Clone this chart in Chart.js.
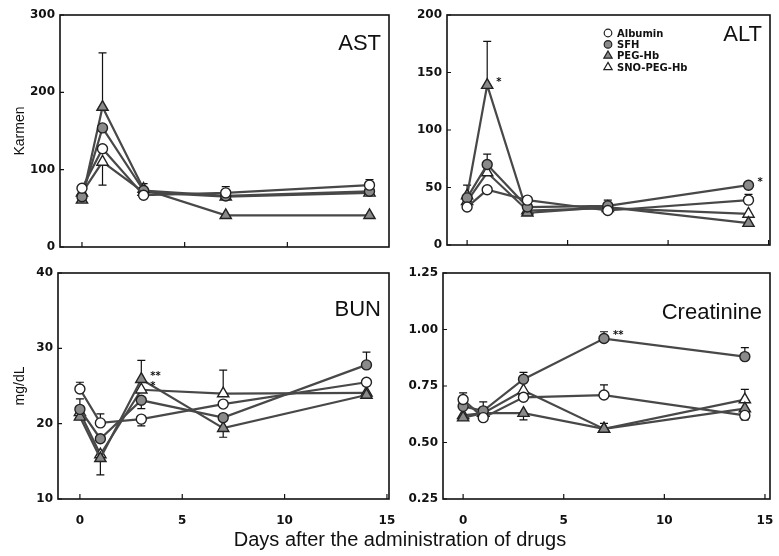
<!DOCTYPE html>
<html>
<head>
<meta charset="utf-8">
<script src="https://cdn.jsdelivr.net/npm/chart.js@4/dist/chart.umd.min.js"></script>
<style>
  body { margin: 0; background: #fff; }
  #wrap { position: relative; width: 779px; height: 556px; overflow: hidden; background: #fff; }
  #wrap canvas { position: absolute; }
  #xTitle {
    position: absolute; left: 400px; top: 528px; transform: translateX(-50%);
    font: 20px "Liberation Sans", Arial, sans-serif; color: #111; white-space: nowrap;
  }
</style>
</head>
<body>
<div id="wrap">
  <canvas id="ast"></canvas>
  <canvas id="alt"></canvas>
  <canvas id="bun"></canvas>
  <canvas id="creatinine"></canvas>
  <div id="xTitle">Days after the administration of drugs</div>
</div>
<script>
const days = [0, 1, 3, 7, 14];
const groups = ['Albumin', 'SFH', 'PEG-Hb', 'SNO-PEG-Hb'];

// AST (Karmen units)
const astAlbumin = [76, 127, 67, 70, 80];
const astSfh = [65, 154, 73, 66, 72];
const astPegHb = [61, 181, 75, 41, 41];
const astSnoPegHb = [70, 110, 71, 65, 70];

// ALT (Karmen units)
const altAlbumin = [33, 48, 39, 30, 39];
const altSfh = [41, 70, 33, 34, 52];
const altPegHb = [43, 139, 28, 33, 19];
const altSnoPegHb = [38, 63, 30, 32, 27];

// BUN (mg/dL)
const bunAlbumin = [24.6, 20.1, 20.6, 22.6, 25.5];
const bunSfh = [21.9, 18.0, 23.1, 20.8, 27.8];
const bunPegHb = [20.9, 15.4, 25.9, 19.4, 23.8];
const bunSnoPegHb = [21.5, 15.9, 24.5, 24.0, 24.1];

// Creatinine (mg/dL)
const creAlbumin = [0.69, 0.61, 0.70, 0.71, 0.62];
const creSfh = [0.66, 0.64, 0.78, 0.96, 0.88];
const crePegHb = [0.61, 0.63, 0.63, 0.56, 0.65];
const creSnoPegHb = [0.62, 0.63, 0.73, 0.56, 0.69];

// error bars: [group index, day index, end of bar]
const astErrors = [[2, 1, 251], [3, 1, 80], [2, 2, 82], [0, 3, 78], [0, 4, 87]];
const altErrors = [[2, 0, 52], [2, 1, 177], [1, 1, 79], [1, 3, 39], [0, 4, 44]];
const bunErrors = [[0, 0, 25.5], [1, 0, 23.3], [0, 1, 21.3], [2, 1, 13.2], [2, 2, 28.4],
  [1, 2, 22.0], [0, 2, 19.7], [3, 3, 27.1], [2, 3, 18.2], [1, 4, 29.5]];
const creErrors = [[0, 0, 0.72], [1, 1, 0.68], [1, 2, 0.81], [2, 2, 0.60], [1, 3, 0.99],
  [0, 3, 0.755], [2, 3, 0.585], [1, 4, 0.92], [3, 4, 0.735], [0, 4, 0.60]];

// significance marks: [group index, day index, text]
const altMarks = [[2, 1, '*'], [1, 4, '*']];
const bunMarks = [[2, 2, '**'], [3, 2, '*']];
const creMarks = [[1, 3, '**']];

const tickFont = { family: '"DejaVu Sans", sans-serif', size: 12, weight: 'bold' };
const markerStyles = [
  { pointStyle: 'circle', radius: 5, fill: '#fff' },
  { pointStyle: 'circle', radius: 5, fill: '#8a8a8a' },
  { pointStyle: 'triangle', radius: 6.5, fill: '#8a8a8a' },
  { pointStyle: 'triangle', radius: 6.5, fill: '#fff' },
];

function buildDatasets(series) {
  return series.map((values, i) => ({
    label: groups[i],
    data: values.map((v, j) => ({ x: days[j], y: v })),
    borderColor: '#484848',
    borderWidth: 2.2,
    pointStyle: markerStyles[i].pointStyle,
    pointRadius: markerStyles[i].radius,
    pointBackgroundColor: markerStyles[i].fill,
    pointBorderColor: '#222',
    pointBorderWidth: 1.4,
    tension: 0,
  }));
}

// frame, inward ticks, error bars, panel name, significance marks, legend
const panelDecor = {
  id: 'panelDecor',
  beforeDatasetsDraw(chart) {
    const { ctx, scales: { x, y } } = chart;
    const opts = chart.options.plugins.panelDecor;
    ctx.save();
    ctx.strokeStyle = '#111';
    ctx.lineWidth = 1.2;
    opts.errors.forEach(([g, d, end]) => {
      const px = x.getPixelForValue(days[d]);
      const py0 = y.getPixelForValue(opts.series[g][d]);
      const py1 = y.getPixelForValue(end);
      ctx.beginPath();
      ctx.moveTo(px, py0);
      ctx.lineTo(px, py1);
      ctx.moveTo(px - 4, py1);
      ctx.lineTo(px + 4, py1);
      ctx.stroke();
    });
    ctx.restore();
  },
  afterDraw(chart) {
    const { ctx, chartArea: area, scales: { x, y } } = chart;
    const opts = chart.options.plugins.panelDecor;
    ctx.save();
    ctx.strokeStyle = '#111';
    ctx.lineWidth = 1.6;
    ctx.strokeRect(area.left, area.top, area.right - area.left, area.bottom - area.top);

    ctx.lineWidth = 1.2;
    ctx.beginPath();
    x.ticks.forEach((t) => {
      const px = x.getPixelForValue(t.value);
      ctx.moveTo(px, area.bottom);
      ctx.lineTo(px, area.bottom - 5);
    });
    y.ticks.forEach((t) => {
      const py = y.getPixelForValue(t.value);
      ctx.moveTo(area.left, py);
      ctx.lineTo(area.left + 4, py);
    });
    ctx.stroke();

    ctx.fillStyle = '#111';
    ctx.font = '22px "Liberation Sans", Arial, sans-serif';
    ctx.textAlign = 'right';
    ctx.textBaseline = 'middle';
    ctx.fillText(opts.name, area.right - 8, area.top + opts.nameOffset);

    ctx.font = 'bold 10px "DejaVu Sans", sans-serif';
    ctx.textAlign = 'left';
    opts.marks.forEach(([g, d, text]) => {
      const px = x.getPixelForValue(days[d]);
      const py = y.getPixelForValue(opts.series[g][d]);
      ctx.fillText(text, px + 9, py - 3);
    });

    if (opts.legend) {
      const lx = area.left + 161;
      let ly = area.top + 18;
      ctx.font = 'bold 10px "DejaVu Sans", sans-serif';
      markerStyles.forEach((m, i) => {
        ctx.fillStyle = m.fill;
        ctx.strokeStyle = '#222';
        Chart.helpers.drawPoint(ctx, {
          pointStyle: m.pointStyle, radius: m.pointStyle === 'circle' ? 3.8 : 4.8, borderWidth: 1.5,
        }, lx, ly);
        ctx.fillStyle = '#111';
        ctx.fillText(groups[i], lx + 9, ly + 1);
        ly += 11.4;
      });
    }
    ctx.restore();
  },
};

function makePanel(id, box, cfg) {
  const canvas = document.getElementById(id);
  canvas.width = box.w;
  canvas.height = box.h;
  canvas.style.left = box.left + 'px';
  canvas.style.top = box.top + 'px';
  canvas.style.width = box.w + 'px';
  canvas.style.height = box.h + 'px';

  return new Chart(canvas, {
    type: 'line',
    data: { datasets: buildDatasets(cfg.series) },
    options: {
      responsive: false,
      animation: false,
      layout: { padding: { top: box.padTop, right: box.padRight, left: 0, bottom: 0 } },
      plugins: {
        legend: { display: false },
        tooltip: { enabled: false },
        panelDecor: {
          name: cfg.name, nameOffset: cfg.nameOffset, series: cfg.series,
          errors: cfg.errors, marks: cfg.marks, legend: cfg.legend,
        },
      },
      scales: {
        x: {
          type: 'linear',
          min: cfg.xMin,
          max: cfg.xMax,
          grid: { display: false, drawTicks: false },
          border: { display: false },
          ticks: {
            display: cfg.showDays, stepSize: 5, includeBounds: false,
            color: '#111', font: tickFont, padding: 15,
          },
          afterFit: (scale) => {
            scale.height = box.xHeight;
            scale.paddingLeft = 0;
            scale.paddingRight = 0;
          },
        },
        y: {
          min: cfg.yMin,
          max: cfg.yMax,
          grid: { display: false, drawTicks: false },
          border: { display: false },
          ticks: {
            stepSize: cfg.yStep, color: '#111', font: tickFont, padding: 5,
            callback: cfg.yFormat || ((v) => v),
          },
          title: {
            display: !!cfg.yTitle, text: cfg.yTitle, color: '#111',
            font: { family: '"Liberation Sans", Arial, sans-serif', size: 14 },
            padding: { top: 12, bottom: 0 },
          },
          afterFit: (scale) => {
            scale.width = box.yWidth;
            scale.paddingTop = 0;
            scale.paddingBottom = 0;
          },
        },
      },
    },
    plugins: [panelDecor],
  });
}

makePanel('ast', { left: 0, top: 0, w: 400, h: 258, padTop: 15, padRight: 11, yWidth: 60, xHeight: 11 }, {
  series: [astAlbumin, astSfh, astPegHb, astSnoPegHb], errors: astErrors, marks: [],
  name: 'AST', nameOffset: 29, yMin: 0, yMax: 300, yStep: 100, yTitle: 'Karmen',
  xMin: -1.07, xMax: 14.95, showDays: false,
});

makePanel('alt', { left: 400, top: 0, w: 379, h: 258, padTop: 15, padRight: 9, yWidth: 47, xHeight: 13 }, {
  series: [altAlbumin, altSfh, altPegHb, altSnoPegHb], errors: altErrors, marks: altMarks,
  name: 'ALT', nameOffset: 20, yMin: 0, yMax: 200, yStep: 50, legend: true,
  xMin: -1.0, xMax: 15.07, showDays: false,
});

makePanel('bun', { left: 0, top: 258, w: 400, h: 298, padTop: 15, padRight: 11, yWidth: 58, xHeight: 57 }, {
  series: [bunAlbumin, bunSfh, bunPegHb, bunSnoPegHb], errors: bunErrors, marks: bunMarks,
  name: 'BUN', nameOffset: 37, yMin: 10, yMax: 40, yStep: 10, yTitle: 'mg/dL',
  xMin: -1.07, xMax: 15.1, showDays: true,
});

makePanel('creatinine', { left: 400, top: 258, w: 379, h: 298, padTop: 15, padRight: 9, yWidth: 43, xHeight: 57 }, {
  series: [creAlbumin, creSfh, crePegHb, creSnoPegHb], errors: creErrors, marks: creMarks,
  name: 'Creatinine', nameOffset: 40, yMin: 0.25, yMax: 1.25, yStep: 0.25,
  yFormat: (v) => v.toFixed(2), xMin: -1.0, xMax: 15.25, showDays: true,
});
</script>
</body>
</html>
